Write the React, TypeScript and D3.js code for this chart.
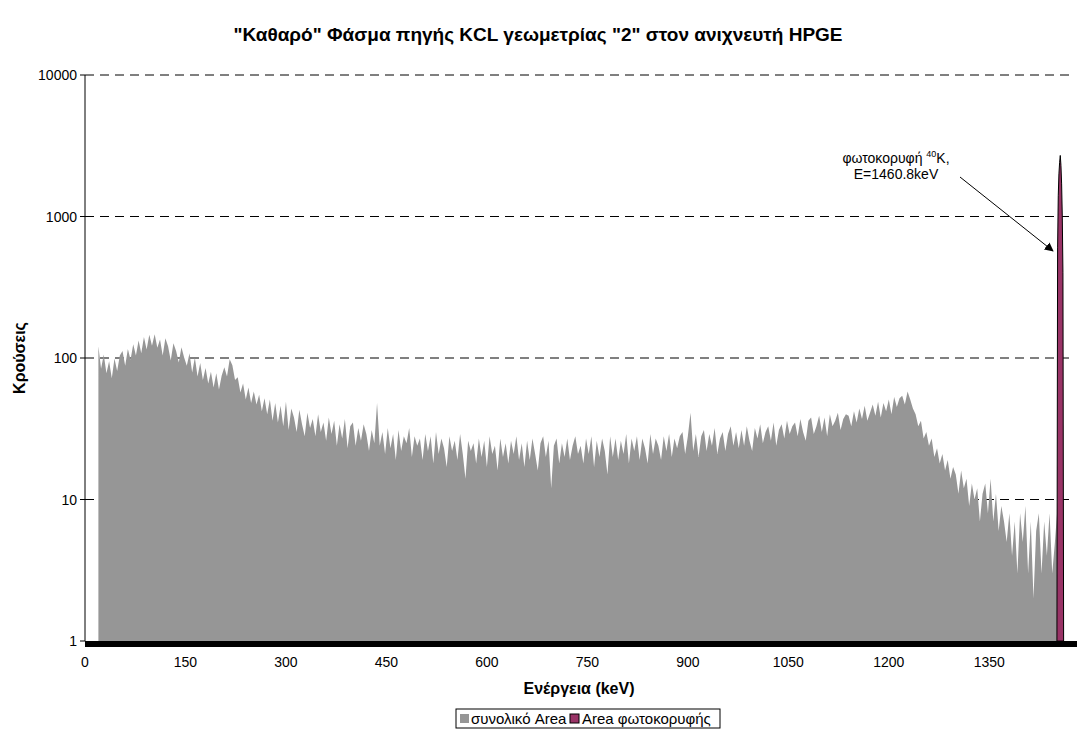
import React, { useEffect, useRef } from 'react';
import * as d3 from 'd3';

const width = 1077;
const height = 729;
const margin = { top: 75, right: 4, bottom: 88, left: 85 };

// total spectrum, one value every 4 keV starting at 20 keV
const energyStart = 20;
const energyStep = 4;
const totalCounts = [
  121, 84, 106, 78, 95, 72, 99, 81, 104, 112, 88, 116, 97, 125, 104, 133, 108, 141, 115, 146,
  122, 147, 118, 135, 104, 138, 121, 96, 127, 112, 93, 119, 101, 88, 108, 79, 101, 74, 92, 70,
  85, 66, 80, 62, 78, 60, 75, 86, 74, 98, 89, 70, 73, 57, 66, 51, 62, 48, 58, 47,
  55, 42, 52, 40, 51, 36, 48, 35, 46, 33, 49, 31, 44, 38, 30, 43, 34, 28, 41, 32,
  37, 28, 40, 30, 35, 26, 38, 29, 36, 24, 34, 27, 37, 23, 33, 35, 24, 32, 26, 34,
  29, 22, 31, 25, 48, 24, 30, 21, 32, 23, 29, 19, 31, 22, 28, 25, 32, 20, 28, 24,
  27, 19, 29, 22, 28, 18, 30, 21, 27, 23, 17, 28, 22, 26, 19, 29, 21, 14, 26, 22,
  25, 18, 27, 20, 26, 17, 28, 21, 24, 16, 27, 20, 25, 18, 26, 21, 28, 19, 25, 17,
  26, 19, 27, 21, 16, 25, 28, 20, 26, 12, 24, 27, 18, 25, 20, 27, 19, 24, 28, 21,
  24, 18, 27, 21, 28, 17, 26, 20, 27, 22, 15, 28, 20, 27, 19, 26, 21, 29, 18, 27,
  22, 28, 19, 27, 23, 18, 29, 21, 27, 24, 19, 28, 22, 29, 20, 27, 23, 28, 30, 21,
  28, 41, 22, 29, 20, 28, 31, 22, 29, 24, 32, 21, 27, 30, 22, 29, 33, 24, 30, 23,
  31, 24, 33, 26, 22, 32, 27, 34, 25, 30, 33, 26, 35, 24, 31, 34, 27, 36, 29, 33,
  35, 28, 37, 30, 26, 36, 38, 29, 33, 39, 30, 38, 28, 40, 33, 36, 41, 31, 37, 40,
  39, 33, 42, 35, 44, 37, 46, 36, 41, 47, 39, 49, 38, 48, 42, 51, 40, 53, 45, 52,
  54, 47, 58, 51, 44, 40, 33, 36, 27, 30, 24, 27, 20, 23, 18, 21, 16, 19, 14, 17,
  15, 11, 16, 12, 14, 9, 13, 10, 12, 7, 11, 13, 8, 14, 7, 11, 6, 9, 7, 5,
  8, 4, 7, 3, 8, 5, 9, 3, 7, 2, 6, 8, 3, 7, 4, 8, 3, 5, 9,
];

// photopeak of 40K
const peakEnergies = [1451, 1452, 1453, 1454, 1455, 1456, 1457, 1458, 1459, 1460, 1461];
const peakCounts = [1, 600, 1400, 2000, 2400, 2700, 2300, 1700, 1000, 400, 1];

const xTicks = [0, 150, 300, 450, 600, 750, 900, 1050, 1200, 1350];
const yTicks = [1, 10, 100, 1000, 10000];

const font = 'Liberation Sans, Arial, sans-serif';

const App = () => {
  const svgRef = useRef(null);

  useEffect(() => {
    const svg = d3.select(svgRef.current);
    svg.selectAll('*').remove();

    const x = d3.scaleLinear().domain([0, 1475]).range([margin.left, width - margin.right]);
    const y = d3.scaleLog().domain([1, 10000]).range([height - margin.bottom, margin.top]);

    svg.append('defs').append('marker')
      .attr('id', 'arrow')
      .attr('viewBox', '0 0 10 10')
      .attr('refX', 9).attr('refY', 5)
      .attr('markerWidth', 9).attr('markerHeight', 9)
      .attr('markerUnits', 'userSpaceOnUse')
      .attr('orient', 'auto')
      .append('path').attr('d', 'M0,0 L10,5 L0,10 Z').attr('fill', '#000');

    // title
    svg.append('text')
      .attr('x', 538).attr('y', 41)
      .attr('text-anchor', 'middle')
      .attr('font-family', font).attr('font-size', 19).attr('font-weight', 'bold')
      .text('"Καθαρό" Φάσμα πηγής KCL γεωμετρίας "2" στον ανιχνευτή HPGE');

    // gridlines
    svg.append('g').selectAll('line')
      .data(yTicks.slice(1))
      .join('line')
      .attr('x1', margin.left).attr('x2', width - margin.right)
      .attr('y1', d => y(d)).attr('y2', d => y(d))
      .attr('stroke', '#000').attr('stroke-width', 1)
      .attr('stroke-dasharray', '9,6');

    const total = totalCounts.map((v, i) => ({ e: energyStart + i * energyStep, v }));
    const peak = peakEnergies.map((e, i) => ({ e, v: peakCounts[i] }));

    const area = d3.area()
      .x(d => x(d.e))
      .y0(y(1))
      .y1(d => y(d.v));

    svg.append('path')
      .datum(total)
      .attr('d', area)
      .attr('fill', '#969696');

    svg.append('path')
      .datum(peak)
      .attr('d', area)
      .attr('fill', '#993366')
      .attr('stroke', '#000')
      .attr('stroke-width', 1);

    // y axis
    const yAxis = svg.append('g');
    yAxis.append('line')
      .attr('x1', margin.left).attr('x2', margin.left)
      .attr('y1', y(10000)).attr('y2', y(1))
      .attr('stroke', '#000');
    yAxis.selectAll('line.tick')
      .data(yTicks)
      .join('line')
      .attr('class', 'tick')
      .attr('x1', margin.left - 5).attr('x2', margin.left)
      .attr('y1', d => y(d)).attr('y2', d => y(d))
      .attr('stroke', '#000');
    yAxis.selectAll('text')
      .data(yTicks)
      .join('text')
      .attr('x', margin.left - 8)
      .attr('y', d => y(d) + 5)
      .attr('text-anchor', 'end')
      .attr('font-family', font).attr('font-size', 14)
      .text(d => String(d));

    // x axis (dense category ticks look like a thick bar)
    svg.append('rect')
      .attr('x', margin.left).attr('y', y(1))
      .attr('width', width - margin.right - margin.left + 4).attr('height', 6)
      .attr('fill', '#000');
    svg.append('g').selectAll('text')
      .data(xTicks)
      .join('text')
      .attr('x', d => x(d))
      .attr('y', y(1) + 26)
      .attr('text-anchor', 'middle')
      .attr('font-family', font).attr('font-size', 14)
      .text(d => String(d));

    // axis titles
    svg.append('text')
      .attr('x', (margin.left + width - margin.right) / 2).attr('y', 694)
      .attr('text-anchor', 'middle')
      .attr('font-family', font).attr('font-size', 16).attr('font-weight', 'bold')
      .text('Ενέργεια (keV)');
    svg.append('text')
      .attr('transform', `translate(25,${y(100)}) rotate(-90)`)
      .attr('text-anchor', 'middle')
      .attr('font-family', font).attr('font-size', 16).attr('font-weight', 'bold')
      .text('Κρούσεις');

    // annotation
    const note = svg.append('text')
      .attr('text-anchor', 'middle')
      .attr('font-family', font).attr('font-size', 14);
    const l1 = note.append('tspan').attr('x', 896).attr('y', 163);
    l1.append('tspan').text('φωτοκορυφή ');
    l1.append('tspan').attr('font-size', 9).attr('dy', -6).text('40');
    l1.append('tspan').attr('dy', 6).text('K,');
    note.append('tspan').attr('x', 896).attr('y', 179).text('E=1460.8keV');
    svg.append('line')
      .attr('x1', 960).attr('y1', 177)
      .attr('x2', 1053).attr('y2', 251)
      .attr('stroke', '#000').attr('stroke-width', 1)
      .attr('marker-end', 'url(#arrow)');

    // legend
    const lg = svg.append('g').attr('transform', 'translate(456,709)');
    lg.append('rect').attr('width', 264).attr('height', 19)
      .attr('fill', '#fff').attr('stroke', '#000');
    lg.append('rect').attr('x', 4).attr('y', 5).attr('width', 9).attr('height', 9)
      .attr('fill', '#969696');
    lg.append('text').attr('x', 15).attr('y', 15)
      .attr('font-family', font).attr('font-size', 15)
      .text('συνολικό Area');
    lg.append('rect').attr('x', 114).attr('y', 5).attr('width', 9).attr('height', 9)
      .attr('fill', '#993366').attr('stroke', '#000');
    lg.append('text').attr('x', 126).attr('y', 15)
      .attr('font-family', font).attr('font-size', 15)
      .text('Area φωτοκορυφής');
  }, []);

  return (
    <svg ref={svgRef} width={width} height={height}
      style={{ position: 'absolute', left: 0, top: 0, background: '#fff' }} />
  );
};

export default App;
